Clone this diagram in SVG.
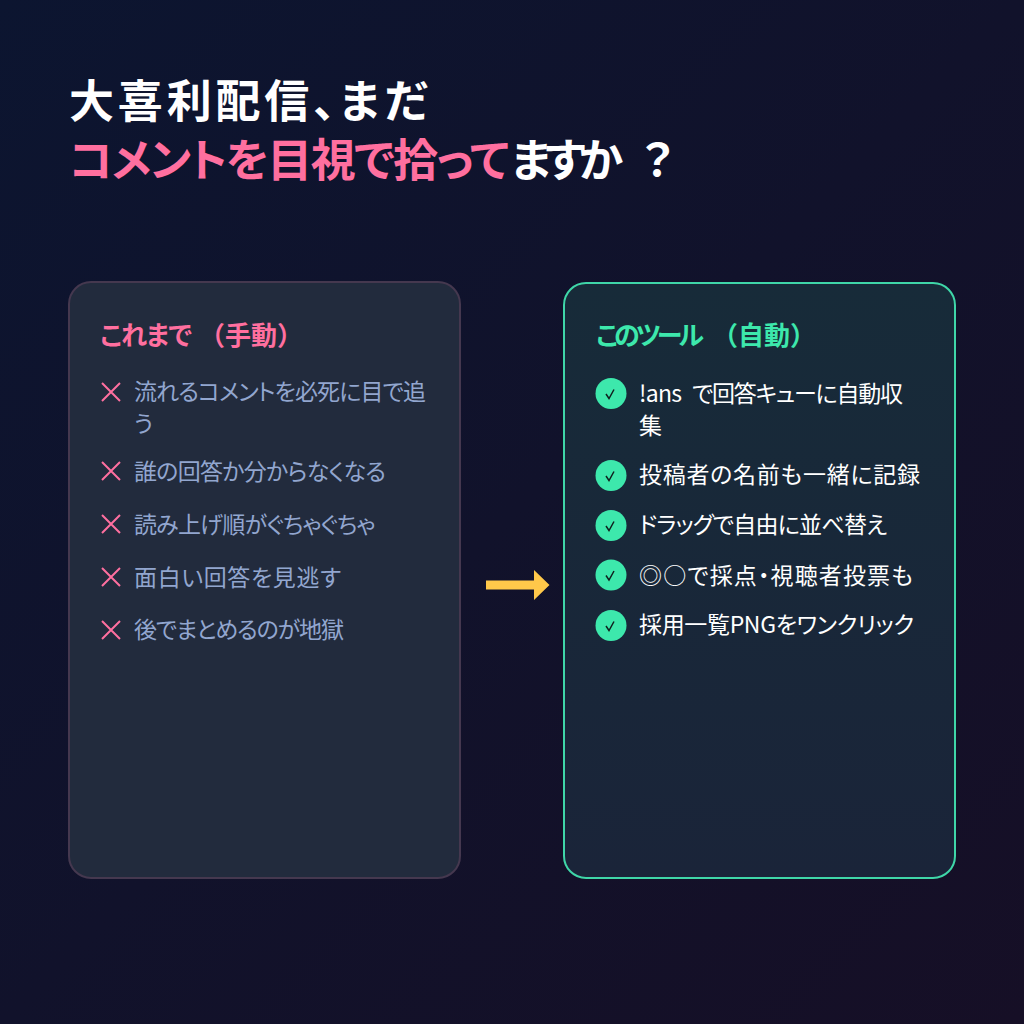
<svg xmlns="http://www.w3.org/2000/svg" width="1024" height="1024" viewBox="0 0 1024 1024">
<defs>
<linearGradient id="bg" x1="0" y1="0" x2="1" y2="1"><stop offset="0" stop-color="#0c1530"/><stop offset="1" stop-color="#160f26"/></linearGradient>
<linearGradient id="okfill" x1="0" y1="0" x2="0" y2="1"><stop offset="0" stop-color="#172b39"/><stop offset="1" stop-color="#1a2439"/></linearGradient>
</defs>
<style>
text{font-family:"Noto Sans CJK JP","Liberation Sans",sans-serif;font-feature-settings:"palt"}
.t{font-size:45px;font-weight:700;fill:#fff}
.p{fill:#ff6f9f}
.h{font-size:26px;font-weight:700}
.full{font-feature-settings:normal}
.li{font-size:23px;font-weight:400}
.ng{fill:#92a6cf}
.ok{fill:#fff}
.x{fill:none;stroke:#ff6f9f;stroke-width:2}
.chk{fill:none;stroke:#10211f;stroke-width:1.5}
.dot{fill:#3de8ac}
</style>
<rect width="1024" height="1024" fill="url(#bg)"/>
<g id="title">
<text class="t" x="69" y="118" textLength="358">大喜利配信、まだ</text>
<text class="t" y="177"><tspan class="p" x="69" textLength="440">コメントを目視で拾って</tspan><tspan x="511" textLength="112">ますか</tspan><tspan x="642" textLength="28">？</tspan></text>
</g>
<g id="card-manual">
<rect x="69" y="282" width="391" height="596" rx="22" fill="#222b3d" stroke="#45384f" stroke-width="2"/>
<text class="h p" y="345"><tspan x="100" textLength="92">これまで</tspan><tspan class="full" x="199" textLength="104">（手動）</tspan></text>
<g class="li ng">
<text x="134" y="400" textLength="292">流れるコメントを必死に目で追</text>
<text x="134" y="432">う</text>
<text x="134" y="480" textLength="252">誰の回答か分からなくなる</text>
<text x="134" y="533" textLength="241">読み上げ順がぐちゃぐちゃ</text>
<text x="134" y="586" textLength="207">面白い回答を見逃す</text>
<text x="134" y="638" textLength="210">後でまとめるのが地獄</text>
</g>
<path class="x" d="M102 383l18 18M120 383l-18 18M102 462l18 18M120 462l-18 18M102 515l18 18M120 515l-18 18M102 568l18 18M120 568l-18 18M102 621l18 18M120 621l-18 18"/>
</g>
<g id="card-auto">
<rect x="564" y="283" width="391" height="595" rx="22" fill="url(#okfill)" stroke="#3fd6a8" stroke-width="2"/>
<text class="h" fill="#3de8ac" y="345"><tspan x="596" textLength="108">このツール</tspan><tspan class="full" x="712" textLength="104">（自動）</tspan></text>
<g class="li ok">
<text x="639" y="402"><tspan x="639" textLength="43">!ans</tspan><tspan x="692" textLength="211">で回答キューに自動収</tspan></text>
<text x="639" y="434">集</text>
<text x="639" y="483" textLength="281">投稿者の名前も一緒に記録</text>
<text x="639" y="533" textLength="248">ドラッグで自由に並べ替え</text>
<text x="639" y="584" textLength="274">◎○で採点・視聴者投票も</text>
<text x="639" y="633" textLength="275">採用一覧PNGをワンクリック</text>
</g>
<g class="dot"><circle cx="611" cy="393.500" r="15.500"/><circle cx="611" cy="475.500" r="15.500"/><circle cx="611" cy="525.500" r="15.500"/><circle cx="611" cy="575" r="15.500"/><circle cx="611" cy="625.500" r="15.500"/></g>
<path class="chk" d="M606 394l3 4.500 5-9M606 476l3 4.500 5-9M606 526l3 4.500 5-9M606 575.500l3 4.500 5-9M606 626l3 4.500 5-9"/>
</g>
<g id="connectors">
<path d="M486 580.500H534V570L549.500 585 534 600V589.500H486Z" fill="#ffc84a"/>
</g>
</svg>
